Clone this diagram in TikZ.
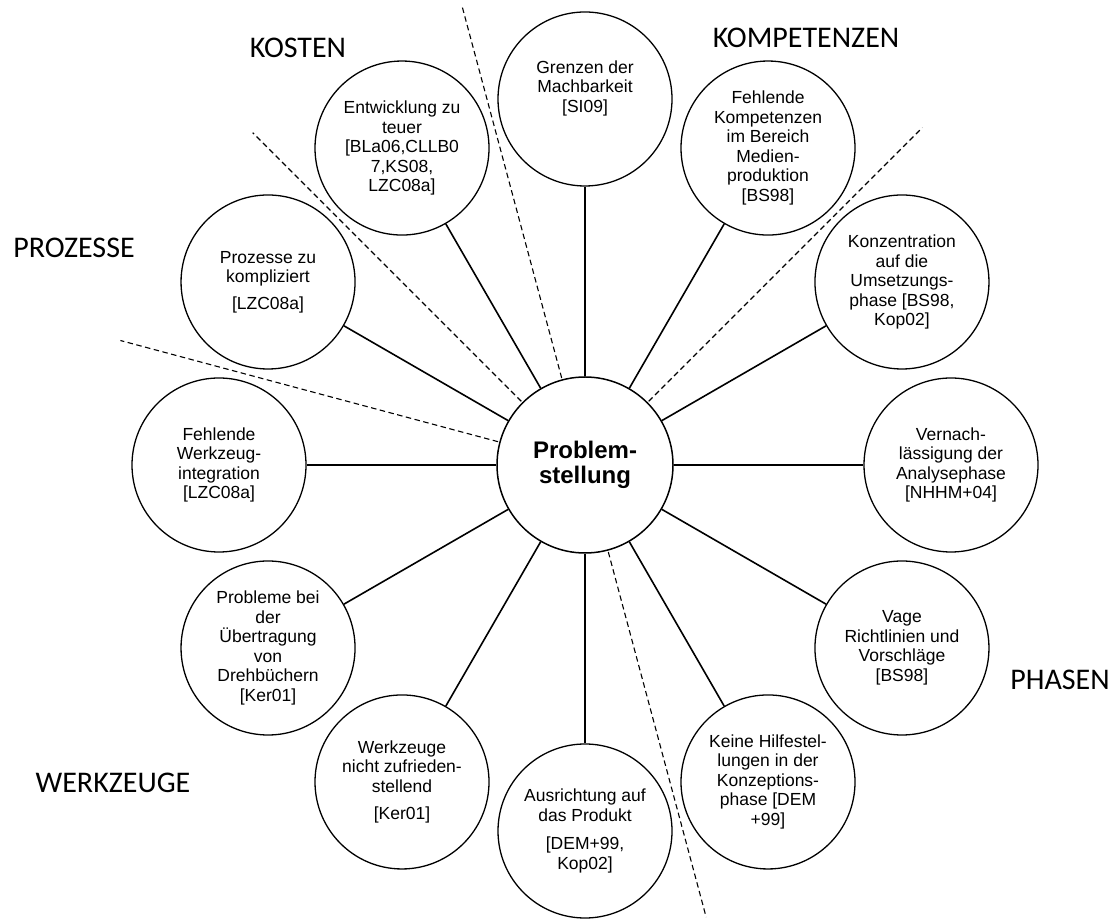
\documentclass[tikz,border=0pt]{standalone}
\usepackage{fontspec}
\setmainfont{Liberation Sans}
\newfontfamily\catfont{Carlito}
\usetikzlibrary{calc}
\begin{document}
\begin{tikzpicture}[x=1pt,y=1pt,
  issue/.style={circle,draw=black,line width=1.3pt,minimum size=174pt,inner sep=0pt,align=center,font=\fontsize{17.5}{19.5}\selectfont},
  core/.style={circle,draw=black,line width=1.5pt,minimum size=176pt,inner sep=0pt,align=center,font=\fontsize{24}{25}\selectfont\bfseries},
  spoke/.style={line width=1.6pt},
  divider/.style={line width=1.1pt,dash pattern=on 5.5pt off 3.5pt},
  category/.style={font=\catfont\fontsize{30}{32}\selectfont,inner sep=0pt}]
\useasboundingbox (0,0) rectangle (1113,918);

% central problem
\node[core] (c) at (585,453) {Problem-\\stellung};

% surrounding problem areas, every 30 degrees
\def\R{366}
\node[issue] (p90)  at ($(c)+(90:\R)$)  {Grenzen der\\Machbarkeit\\{}[SI09]\\[6pt]};
\node[issue] (p60)  at ($(c)+(60:\R)$)  {Fehlende\\Kompetenzen\\im Bereich\\Medien-\\produktion\\{}[BS98]};
\node[issue] (p30)  at ($(c)+(30:\R)$)  {Konzentration\\auf die\\Umsetzungs-\\phase [BS98,\\Kop02]};
\node[issue] (p0)   at ($(c)+(0:\R)$)   {Vernach-\\lässigung der\\Analysephase\\{}[NHHM+04]};
\node[issue] (p330) at ($(c)+(-30:\R)$) {Vage\\Richtlinien und\\Vorschläge\\{}[BS98]};
\node[issue] (p300) at ($(c)+(-60:\R)$) {Keine Hilfestel-\\lungen in der\\Konzeptions-\\phase [DEM\\+99]};
\node[issue] (p270) at ($(c)+(-90:\R)$) {Ausrichtung auf\\das Produkt\\[9pt][DEM+99,\\Kop02]};
\node[issue] (p240) at ($(c)+(-120:\R)$) {Werkzeuge\\nicht zufrieden-\\stellend\\[8pt][Ker01]};
\node[issue] (p210) at ($(c)+(-150:\R)$) {Probleme bei\\der\\Übertragung\\von\\Drehbüchern\\{}[Ker01]};
\node[issue] (p180) at ($(c)+(180:\R)$) {Fehlende\\Werkzeug-\\integration\\{}[LZC08a]};
\node[issue] (p150) at ($(c)+(150:\R)$) {Prozesse zu\\kompliziert\\[7pt][LZC08a]};
\node[issue] (p120) at ($(c)+(120:\R)$) {Entwicklung zu\\teuer\\{}[BLa06,CLLB0\\7,KS08,\\LZC08a]};

% spokes
\foreach \a in {90,60,30,0,330,300,270,240,210,180,150,120}
  \draw[spoke] (c) -- (p\a);

% sector dividers
\foreach \a/\len in {105/476,45/477,135/470,165/481,285/468}{
  \coordinate (d\a s) at ($(c)+(\a:90)$);
  \coordinate (d\a e) at ($(c)+(\a:\len)$);
  \draw[divider] (d\a s) -- (d\a e);
}

% category labels
\node[category] (kosten) at (298,870) {KOSTEN};
\node[category] (kompetenzen) at (806,880) {KOMPETENZEN};
\node[category] (prozesse) at (74,670) {PROZESSE};
\node[category] (phasen) at (1060,238) {PHASEN};
\node[category] (werkzeuge) at (113,135) {WERKZEUGE};
\end{tikzpicture}
\end{document}
